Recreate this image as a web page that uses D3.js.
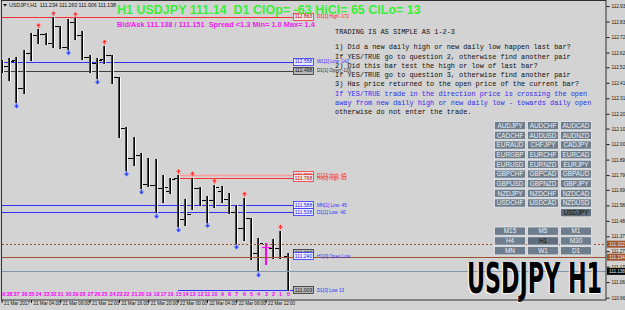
<!DOCTYPE html>
<html>
<head>
<meta charset="utf-8">
<script src="https://cdnjs.cloudflare.com/ajax/libs/d3/7.8.5/d3.min.js"></script>
<style>
  body { margin: 0; background: #d3d3d3; }
  svg { display: block; }
  text { white-space: pre; }
</style>
</head>
<body>
<div id="chart"></div>
<script>
// USDJPY H1 bars, count 39 (21 Mar 00:00) down to 0 (current bar)
var barCounts = [39,38,37,36,35,34,33,32,31,30,29,28,27,26,25,24,23,22,21,20,19,18,17,16,15,14,13,12,11,10,9,8,7,6,5,4,3,2,1,0];
var opens  = [112.498,112.529,112.569,112.378,112.619,112.739,112.745,112.683,112.800,112.660,112.829,112.739,112.592,112.551,112.574,112.603,112.452,112.111,111.904,111.926,111.730,111.723,111.705,111.680,111.768,111.493,111.525,111.703,111.622,111.620,111.680,111.625,111.542,111.434,111.498,111.261,111.300,111.295,111.299,111.240];
var highs  = [112.569,112.581,112.588,112.637,112.750,112.777,112.750,112.858,112.802,112.845,112.852,112.768,112.603,112.581,112.665,112.606,112.455,112.113,112.050,111.942,111.904,111.897,111.791,111.768,111.788,111.626,111.772,111.706,111.649,111.723,111.716,111.667,111.588,111.635,111.500,111.362,111.328,111.355,111.412,111.262];
var lows   = [112.490,112.434,112.285,112.344,112.569,112.687,112.678,112.660,112.653,112.645,112.710,112.574,112.490,112.447,112.547,112.412,112.050,111.825,111.859,111.703,111.718,111.538,111.610,111.667,111.445,111.455,111.560,111.588,111.475,111.572,111.610,111.531,111.330,111.351,111.220,111.141,111.188,111.227,111.227,111.009];
var closes = [112.529,112.563,112.378,112.619,112.739,112.745,112.683,112.800,112.660,112.829,112.739,112.592,112.551,112.569,112.603,112.452,112.111,111.904,111.926,111.730,111.725,111.705,111.707,111.765,111.493,111.525,111.705,111.622,111.622,111.712,111.625,111.542,111.434,111.498,111.261,111.328,111.300,111.299,111.234,111.138];
var markedBars = [3];

var upFractals = [34,32,29,25,15,13,10,6,1];
var downFractals = [37,30,26,22,20,18,15,11,7,4];

var priceTicks = [112.935,112.830,112.725,112.620,112.520,112.415,112.310,112.205,112.105,112.000,111.895,111.790,111.690,111.585,111.480,111.375,111.275,111.170,111.065,110.960];
var timeTickCounts = [39,35,31,27,23,19,15,11,7,3];
var timeLabels = ["21 Mar 2017","21 Mar 04:00","21 Mar 08:00","21 Mar 12:00","21 Mar 16:00","21 Mar 20:00","22 Mar 00:00","22 Mar 04:00","22 Mar 08:00","22 Mar 12:00"];

// levels drawn by the indicator: price, label, kind, first bar of the line (null = tag only)
var levelPrices = [112.863,112.558,112.498,111.788,111.768,111.588,111.538,111.262,111.240,111.009];
var levelLabels = ["D1[1] High -172","W1[1] Low -142","D1[1] Open -136","D1[0] High -65","H4[0] High -63","MN[1] Low -45","D1[1] Low -40","","H1[0] Open Low","D1[0] Low 13"];
var levelKinds  = ["high","low","open","high2","high","low","low","open","low","lowtag"];
var levelFrom   = [39,39,39,15,15,39,39,null,null,15];

var axisLevelPrices = [111.322,111.234,111.138];
var axisLevelKinds  = ["dotted","solid","bid"];

var headerText = "USDJPY,H1  111.234 111.263 111.006 111.138";
var titleText = "H1 USDJPY 111.14  D1 ClOp= -63 HiCl= 65 ClLo= 13";
var spreadText = "Bid/Ask 111.138 / 111.151  Spread <1.3 Min= 1.0 Max= 1.4";
var instructionLines = [
  "TRADING IS AS SIMPLE AS 1-2-3",
  "1) Did a new daily high or new daily low happen last bar?",
  "If YES/TRUE go to question 2, otherwise find another pair",
  "2) Did this bar test the high or low of last bar?",
  "If YES/TRUE go to question 3, otherwise find another pair",
  "3) Has price returned to the open price of the current bar?",
  "If YES/TRUE trade in the direction price is crossing the open",
  "away from new daily high or new daily low - towards daily open",
  "otherwise do not enter the trade."
];
var symbols = ["AUDJPY","AUDCHF","AUDCAD","CADCHF","AUDUSD","AUDNZD","EURAUD","CHFJPY","CADJPY","EURGBP","EURCHF","EURCAD","EURUSD","EURNZD","EURJPY","GBPCHF","GBPCAD","GBPAUD","GBPUSD","GBPNZD","GBPJPY","NZDJPY","NZDCHF","NZDCAD","USDCHF","USDCAD","NZDUSD",null,null,"USDJPY"];
var timeframes = ["M15","M5","M1","H4","H1","M30","MN","W1","D1"];
var activeSymbol = "USDJPY", activeTf = "H1";

(function() {
  var width = 625, height = 310;
  var plotRight = 606, plotBottom = 300;

  var svg = d3.select("#chart")
    .append("svg")
    .attr("width", width)
    .attr("height", height);

  svg.append("rect").attr("width", width).attr("height", height).attr("fill", "#d3d3d3");

  var yPositionScale = d3.scaleLinear().domain([110.944, 112.976]).range([plotBottom, 0]);
  var xPositionScale = d3.scaleLinear().domain([39, 0]).range([1.6, 287.6]);

  svg.append("clipPath").attr("id", "plot-clip")
    .append("rect").attr("x", 2).attr("y", 1).attr("width", plotRight - 2).attr("height", plotBottom - 1);

  var plot = svg.append("g").attr("clip-path", "url(#plot-clip)");

  function py(p) { return Math.round(yPositionScale(p)) + 0.5; }
  function bx(c) { return Math.round(xPositionScale(c)); }

  var levelStroke = { high: "#ff3030", high2: "#ff9a9a", low: "#3030ff", open: "#404040", lowtag: "#3030ff" };
  var levelTagText = { high: "#c00000", high2: "#c00000", low: "#2020e0", open: "#111", lowtag: "#111" };
  var levelTagFill = { high: "#e8e8e8", high2: "#e8e8e8", low: "#ececff", open: "#b8b8b8", lowtag: "#b8b8b8" };
  var levelTagStroke = { high: "#ff3030", high2: "#ff3030", low: "#3030ff", open: "#303030", lowtag: "#303030" };
  var levelLabelColor = { high: "#ff2020", high2: "#ff2020", low: "#3030ff", open: "#303030", lowtag: "#3030ff" };

  // full width lines
  var axisStroke = { dotted: "#a0522d", solid: "#a0522d", bid: "#8797aa" };
  axisLevelPrices.forEach(function(p, i) {
    svg.append("line")
      .attr("x1", 2).attr("x2", plotRight)
      .attr("y1", py(p)).attr("y2", py(p))
      .attr("stroke", axisStroke[axisLevelKinds[i]])
      .attr("stroke-width", 1)
      .attr("stroke-dasharray", axisLevelKinds[i] === "dotted" ? "2,2" : null);
  });

  // indicator levels
  levelPrices.forEach(function(p, i) {
    var k = levelKinds[i];
    if (levelFrom[i] !== null) {
      plot.append("line")
        .attr("x1", levelFrom[i] === 39 ? 2 : bx(levelFrom[i])).attr("x2", 293)
        .attr("y1", py(p)).attr("y2", py(p))
        .attr("stroke", levelStroke[k])
        .attr("stroke-width", k === "high2" ? 1.5 : 1);
    }
  });

  // bars
  barCounts.forEach(function(c, i) {
    var x = bx(c);
    var marked = markedBars.indexOf(c) >= 0;
    var col = marked ? "#ff00ff" : "#000";
    var top = Math.round(yPositionScale(highs[i]));
    var bottom = Math.round(yPositionScale(lows[i]));
    plot.append("rect").attr("x", x - 1).attr("y", top).attr("width", 1).attr("height", bottom - top + 1)
      .attr("fill", marked ? "#ff00ff" : "#4a4a4a");
    plot.append("rect").attr("x", x).attr("y", top).attr("width", 1).attr("height", bottom - top + 1)
      .attr("fill", col);
    if (!marked) {
      plot.append("rect").attr("x", x + 1).attr("y", top).attr("width", 1).attr("height", bottom - top + 1)
        .attr("fill", "#ffffff").attr("opacity", 0.85);
    }
    plot.append("rect").attr("x", x - 4).attr("y", Math.round(yPositionScale(opens[i]))).attr("width", 3).attr("height", 1).attr("fill", col);
    plot.append("rect").attr("x", x + 2).attr("y", Math.round(yPositionScale(closes[i]))).attr("width", 3).attr("height", 1).attr("fill", col);
  });

  // fractal arrows
  var upPath = "M0,-5 L-2.6,-2 L-0.8,-2 L-0.8,0 L0.8,0 L0.8,-2 L2.6,-2 Z";
  var downPath = "M0,5 L-2.6,2 L-0.8,2 L-0.8,0 L0.8,0 L0.8,2 L2.6,2 Z";
  upFractals.forEach(function(c) {
    var i = barCounts.indexOf(c);
    plot.append("path").attr("d", upPath)
      .attr("transform", "translate(" + (bx(c) + 0.5) + "," + (yPositionScale(highs[i]) - 1.5) + ")")
      .attr("fill", "#ff3030").attr("stroke", "#ffb0b0").attr("stroke-width", 0.4);
  });
  downFractals.forEach(function(c) {
    var i = barCounts.indexOf(c);
    plot.append("path").attr("d", downPath)
      .attr("transform", "translate(" + (bx(c) + 0.5) + "," + (yPositionScale(lows[i]) + 1.5) + ")")
      .attr("fill", "#2a3cff").attr("stroke", "#a0b0ff").attr("stroke-width", 0.4);
  });

  // level tags and labels
  levelPrices.forEach(function(p, i) {
    var k = levelKinds[i];
    var yy = yPositionScale(p);
    svg.append("rect").attr("x", 293.5).attr("y", Math.round(yy) - 3.5).attr("width", 20).attr("height", 7)
      .attr("fill", levelTagFill[k]).attr("stroke", levelTagStroke[k]).attr("stroke-width", 0.8);
    svg.append("text").attr("x", 303.5).attr("y", yy + 1.7)
      .attr("text-anchor", "middle")
      .attr("font-family", "Liberation Sans, Arial, sans-serif").attr("font-size", 5)
      .attr("fill", levelTagText[k]).text(d3.format(".3f")(p));
    if (levelLabels[i]) {
      svg.append("text").attr("x", 317).attr("y", yy + 1.6)
        .attr("font-family", "Liberation Sans, Arial, sans-serif").attr("font-size", 4.6)
        .attr("fill", levelLabelColor[k]).text(levelLabels[i]);
    }
  });

  // bar counts
  plot.selectAll(".count")
    .data(barCounts)
    .enter().append("text")
    .attr("x", function(d) { return bx(d) + 0.5; })
    .attr("y", 296)
    .attr("text-anchor", "middle")
    .attr("font-family", "Liberation Sans, Arial, sans-serif")
    .attr("font-size", 5.5)
    .attr("font-weight", "bold")
    .attr("fill", "#ff00ff")
    .text(function(d) { return d; });

  // header
  svg.append("path").attr("d", "M3,4 L7,4 L5,6.5 Z").attr("fill", "#000");
  svg.append("text").attr("x", 9).attr("y", 7)
    .attr("font-family", "Liberation Sans, Arial, sans-serif").attr("font-size", 5.2)
    .attr("fill", "#111").text(headerText);

  svg.append("text").attr("x", 117).attr("y", 13.5)
    .attr("font-family", "Liberation Sans, Arial, sans-serif").attr("font-size", 12.5).attr("font-weight", "bold")
    .attr("fill", "#39ef39").text(titleText);

  svg.append("text").attr("x", 117).attr("y", 26.5)
    .attr("font-family", "Liberation Sans, Arial, sans-serif").attr("font-size", 7.4).attr("font-weight", "bold")
    .attr("fill", "#f020f0").text(spreadText);

  var lineY = [32, 47, 56.5, 65.7, 75, 84.2, 93.4, 102.6, 111.8];
  instructionLines.forEach(function(s, i) {
    svg.append("text").attr("x", 335).attr("y", lineY[i] + 2.2)
      .attr("font-family", "Liberation Mono, DejaVu Sans Mono, monospace").attr("font-size", 6.9)
      .attr("fill", (i === 6 || i === 7) ? "#2e2ef0" : "#111").text(s);
  });

  // buttons
  var colX = [494, 527, 560], btnW = 31, btnH = 8.3;
  function button(label, x, y, active) {
    svg.append("rect").attr("x", x + 0.5).attr("y", y + 0.5).attr("width", btnW).attr("height", btnH)
      .attr("fill", active ? "#5f6d7c" : "#6e7d8d").attr("stroke", "#e6e9ec").attr("stroke-width", 0.8);
    svg.append("text").attr("x", x + 0.5 + btnW / 2).attr("y", y + 0.5 + btnH / 2 + 2.2)
      .attr("text-anchor", "middle")
      .attr("font-family", "Liberation Sans, Arial, sans-serif").attr("font-size", 6.4)
      .attr("fill", active ? "#0c0c0c" : "#eef1f4").text(label);
  }
  symbols.forEach(function(s, i) {
    if (s) button(s, colX[i % 3], 121 + Math.floor(i / 3) * 9.67, s === activeSymbol);
  });
  timeframes.forEach(function(s, i) {
    button(s, colX[i % 3], 226.5 + Math.floor(i / 3) * 9.8, s === activeTf);
  });

  // big symbol label
  svg.append("text").attr("x", 466).attr("y", 294)
    .attr("font-family", "Liberation Sans Narrow, DejaVu Sans Condensed, Arial, sans-serif")
    .attr("font-size", 42).attr("font-weight", "bold")
    .attr("textLength", 135).attr("lengthAdjust", "spacingAndGlyphs")
    .attr("fill", "#ffffff").text(activeSymbol + " " + activeTf);
  svg.append("text").attr("x", 467).attr("y", 293)
    .attr("font-family", "Liberation Sans Narrow, DejaVu Sans Condensed, Arial, sans-serif")
    .attr("font-size", 42).attr("font-weight", "bold")
    .attr("textLength", 135).attr("lengthAdjust", "spacingAndGlyphs")
    .attr("fill", "#000").text(activeSymbol + " " + activeTf);

  // frame
  svg.append("rect").attr("x", 1.5).attr("y", 0.5).attr("width", plotRight - 1.5).attr("height", plotBottom - 0.5)
    .attr("fill", "none").attr("stroke", "#303030").attr("stroke-width", 1);

  // price axis
  var yAxis = d3.axisRight(yPositionScale)
    .tickValues(priceTicks)
    .tickFormat(d3.format(".3f"))
    .tickSize(3)
    .tickPadding(2);
  var yAxisG = svg.append("g")
    .attr("class", "axis y-axis")
    .attr("transform", "translate(" + (plotRight + 0.5) + ",0)")
    .call(yAxis);
  yAxisG.select(".domain").remove();
  yAxisG.selectAll("text").attr("font-family", "Liberation Sans, Arial, sans-serif").attr("font-size", 4.6).attr("fill", "#111");
  yAxisG.selectAll("line").attr("stroke", "#111");

  var axisTagFill = { dotted: "#a0522d", solid: "#a0522d", bid: "#000" };
  axisLevelPrices.forEach(function(p, i) {
    var yy = yPositionScale(p);
    svg.append("rect").attr("x", 607).attr("y", yy - 3.5).attr("width", 18).attr("height", 7)
      .attr("fill", axisTagFill[axisLevelKinds[i]]);
    svg.append("text").attr("x", 609).attr("y", yy + 1.6)
      .attr("font-family", "Liberation Sans, Arial, sans-serif").attr("font-size", 4.6)
      .attr("fill", "#f0f0f0").text(d3.format(".3f")(p));
  });

  // time axis
  var xAxis = d3.axisBottom(xPositionScale)
    .tickValues(timeTickCounts)
    .tickFormat(function(d, i) { return timeLabels[i]; })
    .tickSize(3)
    .tickPadding(1);
  var xAxisG = svg.append("g")
    .attr("class", "axis x-axis")
    .attr("transform", "translate(0," + plotBottom + ")")
    .call(xAxis);
  xAxisG.select(".domain").remove();
  xAxisG.selectAll("line").attr("stroke", "#111");
  xAxisG.selectAll("text")
    .attr("text-anchor", "start")
    .attr("dx", 2)
    .attr("dy", "0.2em")
    .attr("font-family", "Liberation Sans, Arial, sans-serif").attr("font-size", 4.6).attr("fill", "#111");
})();
</script>
</body>
</html>
